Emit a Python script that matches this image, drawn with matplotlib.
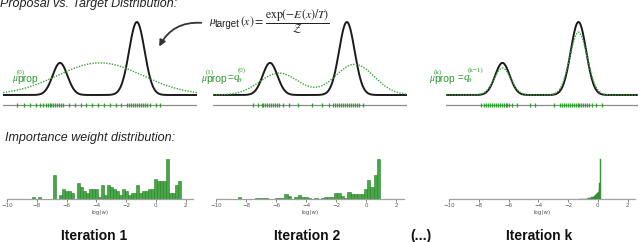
import numpy as np
import matplotlib
matplotlib.use("Agg")
import matplotlib.pyplot as plt
from matplotlib.patches import FancyArrowPatch

plt.rcParams["mathtext.fontset"] = "stix"

# ---------------- data ----------------
# top row: x grid range (arbitrary units)
x_range = [-5.0, 5.0]
# target mixture (peak heights normalised to the tallest peak)
target_means = [-2.06, 1.90]
target_sds = [0.38, 0.40]
target_peaks = [0.44, 1.00]
# proposal mixtures per iteration
prop1_means, prop1_sds, prop1_peaks = [0.0], [2.2], [0.44]
prop2_means, prop2_sds, prop2_peaks = [-1.6, 2.3], [1.0, 1.0], [0.30, 0.42]
prop3_means, prop3_sds, prop3_peaks = [-2.06, 1.90], [0.43, 0.45], [0.37, 0.86]

# samples drawn (rug marks)
rug1 = [-4.3, -3.9, -3.6, -3.3, -3.1, -2.95, -2.8, -2.7, -2.6, -2.5, -2.4, -2.3, -2.2,
        -2.1, -2.0, -1.9, -1.6, -1.3, -1.0, -0.7, -0.4, -0.1, 0.2, 0.5, 0.8, 1.1, 1.4,
        1.5, 1.6, 1.7, 1.8, 1.9, 2.0, 2.1, 2.2, 2.3, 2.4, 2.6, 2.9, 3.1]
rug2 = [-2.95, -2.7, -2.5, -2.4, -2.3, -2.2, -2.1, -2.0, -1.9, -1.8, -1.7, -1.6, -1.4,
        -1.1, -0.6, 0.1, 0.6, 1.0, 1.2, 1.3, 1.4, 1.5, 1.6, 1.7, 1.8, 1.9, 2.0, 2.1, 2.2,
        2.3, 2.4, 2.55, 2.75]
rug3 = [-3.2, -3.0, -2.9, -2.8, -2.7, -2.6, -2.5, -2.4, -2.3, -2.2, -2.1, -2.0, -1.9,
        -1.8, -1.7, -1.55, -1.3, -0.6, -0.35, 0.6, 0.95, 1.05, 1.15, 1.25, 1.35, 1.45,
        1.55, 1.65, 1.75, 1.85, 1.95, 2.05, 2.15, 2.25, 2.35, 2.45, 2.6, 2.8, 3.1]

# bottom row: histograms of log importance weights
hist1_start, hist1_width = -8.3, 0.2
hist1_counts = [1, 0, 1, 0, 0, 0, 0,
                12, 0, 2, 5, 4, 4, 3, 0, 8, 6,
                4, 3, 5, 5, 5, 1, 7, 2, 7, 6,
                5, 4, 2, 5, 4, 2, 3, 3, 7, 3,
                4, 4, 5, 5, 10, 9, 9, 9, 20, 3,
                3, 7, 9]
hist2_start, hist2_width = -8.53, 0.22
hist2_counts = [2, 0, 0, 0, 0, 1, 1, 1, 1, 0, 0, 1, 1, 1, 6, 4, 0, 2, 5, 2, 2, 1,
                0, 1, 0, 1, 3, 3, 3, 7, 8, 4, 1, 9, 6, 6, 6, 6, 12, 24, 15, 30, 50]
hist3_start, hist3_width = -1.25, 0.05
hist3_counts = [1, 1, 0, 1, 1, 0, 1, 1, 0, 1, 2, 1, 2, 2, 3, 3, 4, 5, 5, 6, 7, 9,
                10, 12, 14, 18, 25, 40, 100]
hist_xticks = [-10, -8, -6, -4, -2, 0, 2]

# ---------------- layout ----------------
W, H = 640, 242
fig = plt.figure(figsize=(6.4, 2.42), dpi=100)


def rect(l, t, w, h):
    return [l / W, 1 - (t + h) / H, w / W, h / H]


def fx(x):
    return x / W


def fy(y):
    return 1 - y / H


def mixture(xs, means, sds, peaks):
    out = np.zeros_like(xs)
    for m, s, p in zip(means, sds, peaks):
        out += p * np.exp(-0.5 * ((xs - m) / s) ** 2)
    return out


BLACK = "#1a1a1a"
GREEN = "#3aa33a"
LGREEN = "#2e9a2e"
GRAY = "#8a8a8a"

xs = np.linspace(x_range[0], x_range[1], 600)
tgt = mixture(xs, target_means, target_sds, target_peaks)
props = [(prop1_means, prop1_sds, prop1_peaks),
         (prop2_means, prop2_sds, prop2_peaks),
         (prop3_means, prop3_sds, prop3_peaks)]
rugs = [rug1, rug2, rug3]
top_lefts = [3, 213, 446]
top_widths = [194, 194, 192]
base_px, top_px, bot_px, peak_px = 95, 10, 110, 22
unit = base_px - peak_px
ylo = -(bot_px - base_px) / unit
yhi = (base_px - top_px) / unit
gray_y = -(105 - base_px) / unit

for i in range(3):
    ax = fig.add_axes(rect(top_lefts[i], top_px, top_widths[i], bot_px - top_px))
    ax.plot(xs, tgt, color=BLACK, lw=1.4, zorder=3)
    pm, ps, pp = props[i]
    ax.plot(xs, mixture(xs, pm, ps, pp), color=GREEN, lw=1.0, ls=(0, (1, 1)), zorder=4)
    ax.axhline(gray_y, color=GRAY, lw=0.9, zorder=1)
    r = np.array(rugs[i])
    ax.plot(r, np.full(len(r), gray_y), "|", color="#2ca02c", ms=3, mew=0.9, zorder=2)
    ax.set_xlim(*x_range)
    ax.set_ylim(ylo, yhi)
    ax.axis("off")

# histograms
hists = [(hist1_start, hist1_width, hist1_counts),
         (hist2_start, hist2_width, hist2_counts),
         (hist3_start, hist3_width, hist3_counts)]
hist_lefts = [7, 216, 449]
hist_widths = [186, 188, 186]
for i in range(3):
    st, bw, cnt = hists[i]
    cnt = np.array(cnt, dtype=float)
    centers = st + bw * (np.arange(len(cnt)) + 0.5)
    ax = fig.add_axes(rect(hist_lefts[i], 157, hist_widths[i], 42))
    lw = 0.4 if i < 2 else 0.3
    ax.bar(centers, cnt, width=bw, color="#45a845", edgecolor="#2b7d2b", linewidth=lw)
    ax.set_xlim(-10, 2.5)
    ax.set_ylim(0, cnt.max() * 1.04)
    for s in ["top", "right", "left"]:
        ax.spines[s].set_visible(False)
    ax.spines["bottom"].set_color("#a0a0a0")
    ax.spines["bottom"].set_linewidth(0.9)
    ax.set_yticks([])
    ax.set_xticks(hist_xticks)
    ax.set_xticklabels([f"{t}".replace("-", "\u2212") for t in hist_xticks])
    ax.tick_params(axis="x", labelsize=4, colors="#555555", length=2, width=0.5, pad=1)
    ax.set_xlabel("log(w)", fontsize=4, color="#555555", labelpad=1)
    ax.patch.set_alpha(0)

# headings
fig.text(fx(0), fy(7), "Proposal vs. Target Distribution:", family="Liberation Sans",
         style="italic", fontsize=9, color="#222222", va="baseline", ha="left")
fig.text(fx(5), fy(141), "Importance weight distribution:", family="Liberation Sans",
         style="italic", fontsize=9, color="#222222", va="baseline", ha="left")
for xc, s in [(94, "Iteration 1"), (307, "Iteration 2"), (421, "(...)"), (539, "Iteration k")]:
    fig.text(fx(xc), fy(240), s, family="Liberation Sans", weight="bold", fontsize=10,
             color="#111111", va="baseline", ha="center")

# formula (composed: serif mu, sans subscript, mathtext fraction)
fig.text(fx(209), fy(24), "\u03bc", family="Liberation Serif", style="italic",
         fontsize=8, color="#222222", va="baseline")
fig.text(fx(214.5), fy(27), "target", family="Liberation Sans", fontsize=7,
         color="#222222", va="baseline")
fig.text(fx(240.5), fy(25), r"$(x) =$", fontsize=8.5, color="#222222",
         va="baseline", ha="left")
fig.text(fx(265), fy(21.5), r"$\dfrac{\exp(-E(x)/T)}{\mathcal{Z}}$",
         fontsize=8.5, color="#222222", va="center", ha="left")

arrow = FancyArrowPatch((fx(204), fy(23)), (fx(158), fy(49)), transform=fig.transFigure,
                        connectionstyle="arc3,rad=0.35", arrowstyle="-|>",
                        mutation_scale=9, color="#333333", lw=1.3)
fig.patches.append(arrow)


# green labels (composed pieces)
def prop_label(x0, sup):
    fig.text(fx(x0), fy(81), "\u03bc", family="Liberation Serif", style="italic",
             fontsize=7, color=LGREEN, va="baseline")
    fig.text(fx(x0 + 5), fy(74), sup, family="Liberation Serif", fontsize=5,
             color=LGREEN, va="baseline")
    fig.text(fx(x0 + 5), fy(82.5), "prop", family="Liberation Sans", fontsize=7.5,
             color=LGREEN, va="baseline")


def q_label(x0, sup):
    fig.text(fx(x0), fy(81), "=", family="Liberation Sans", fontsize=7,
             color=LGREEN, va="baseline")
    fig.text(fx(x0 + 5.5), fy(80), "q", family="Liberation Serif", style="italic",
             fontsize=8, color=LGREEN, va="baseline")
    fig.text(fx(x0 + 10), fy(72), sup, family="Liberation Serif", fontsize=5,
             color=LGREEN, va="baseline")
    fig.text(fx(x0 + 10), fy(82), "\u03b8", family="Liberation Serif", style="italic",
             fontsize=5, color=LGREEN, va="baseline")


prop_label(12, "(0)")
prop_label(201, "(1)")
q_label(228, "(0)")
prop_label(429, "(k)")
q_label(458, "(k\u22121)")

fig.savefig("out.png", dpi=100)
